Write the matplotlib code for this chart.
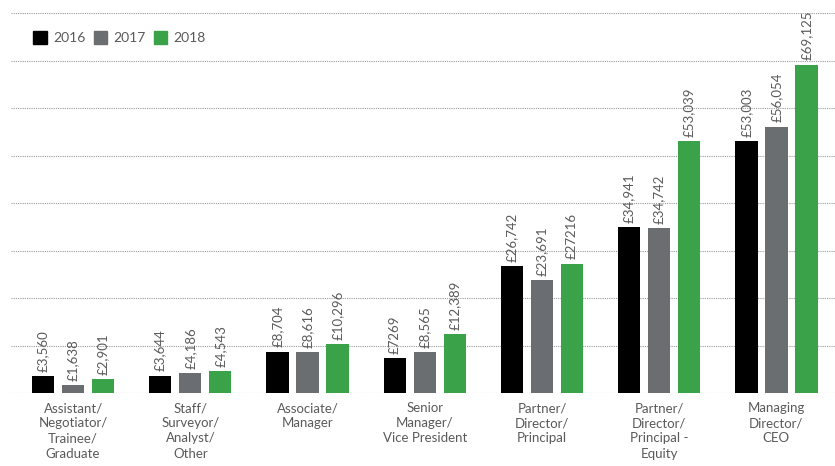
import numpy as np
import matplotlib
matplotlib.use("Agg")
import matplotlib.pyplot as plt
from matplotlib.patches import Patch

categories = ["Assistant/\nNegotiator/\nTrainee/\nGraduate",
              "Staff/\nSurveyor/\nAnalyst/\nOther",
              "Associate/\nManager",
              "Senior\nManager/\nVice President",
              "Partner/\nDirector/\nPrincipal",
              "Partner/\nDirector/\nPrincipal -\nEquity",
              "Managing\nDirector/\nCEO"]
years = ["2016", "2017", "2018"]
values_2016 = [3560, 3644, 8704, 7269, 26742, 34941, 53003]
values_2017 = [1638, 4186, 8616, 8565, 23691, 34742, 56054]
values_2018 = [2901, 4543, 10296, 12389, 27216, 53039, 69125]
labels_2016 = ["£3,560", "£3,644", "£8,704", "£7269", "£26,742", "£34,941", "£53,003"]
labels_2017 = ["£1,638", "£4,186", "£8,616", "£8,565", "£23,691", "£34,742", "£56,054"]
labels_2018 = ["£2,901", "£4,543", "£10,296", "£12,389", "£27216", "£53,039", "£69,125"]

colors = ["#000000", "#6b6e70", "#3aa34a"]
text_color = "#5a5a5a"

plt.rcParams['font.family'] = ['Lato', 'DejaVu Sans']

fig = plt.figure(figsize=(8.35, 4.66), dpi=100)
ax = fig.add_axes([11 / 835, 73 / 466, 824 / 835, 380 / 466])

x = np.arange(len(categories))
width = 0.19
step = 0.256
series = [(values_2016, labels_2016), (values_2017, labels_2017), (values_2018, labels_2018)]

for i, (vals, labs) in enumerate(series):
    pos = x + (i - 1) * step
    ax.bar(pos, vals, width, color=colors[i], zorder=3)
    for px, v, lab in zip(pos, vals, labs):
        ax.text(px, v + 900, lab, rotation=90, ha="center", va="bottom",
                fontsize=9.5, color=text_color)

# dotted horizontal gridlines
ax.set_yticks(np.arange(0, 80001, 10000))
ax.yaxis.grid(True, linestyle=(0, (1, 1)), color="#9a9a9a", linewidth=0.8, zorder=0)
ax.set_ylim(0, 80000)
ax.set_xlim(-0.53, 6.5)
ax.tick_params(axis="y", left=False, labelleft=False)
ax.tick_params(axis="x", bottom=False, pad=3)
ax.set_xticks(x)
ax.set_xticklabels(categories, fontsize=9.5, color=text_color, linespacing=1.32)
for s in ax.spines.values():
    s.set_visible(False)

handles = [Patch(color=c) for c in colors]
leg = ax.legend(handles, years, loc="upper left", ncol=3, frameon=False,
                bbox_to_anchor=(0.012, 0.985), handlelength=1.0, handleheight=1.0,
                handletextpad=0.4, columnspacing=0.6, fontsize=10)
for t in leg.get_texts():
    t.set_color(text_color)

fig.savefig("out.png", dpi=100)
